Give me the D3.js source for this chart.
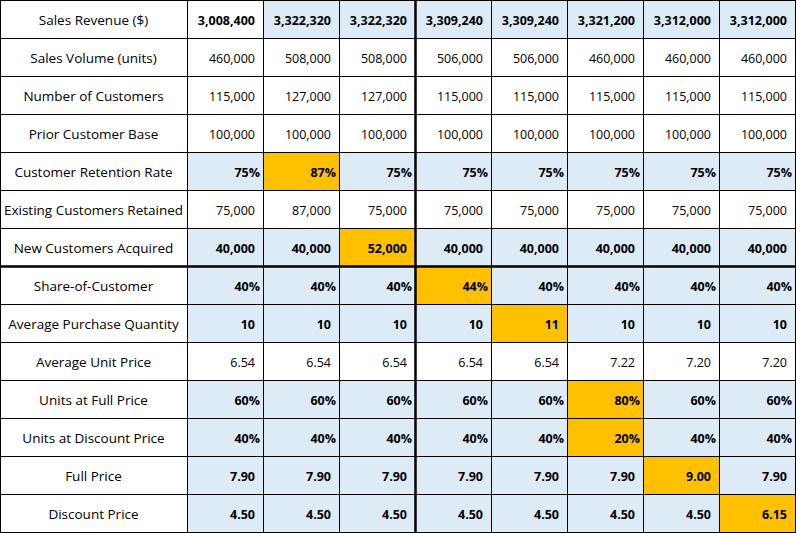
<!DOCTYPE html>
<html>
<head>
<meta charset="utf-8">
<script src="https://cdn.jsdelivr.net/npm/d3@7"></script>
<style>
  html, body { margin: 0; padding: 0; background: #fff; }
  svg { display: block; }
</style>
</head>
<body>
<svg id="chart"></svg>
<script>
// row labels
const rowLabels = [
  'Sales Revenue ($)', 'Sales Volume (units)', 'Number of Customers', 'Prior Customer Base',
  'Customer Retention Rate', 'Existing Customers Retained', 'New Customers Acquired',
  'Share-of-Customer', 'Average Purchase Quantity', 'Average Unit Price',
  'Units at Full Price', 'Units at Discount Price', 'Full Price', 'Discount Price'
];

// values per row, one per scenario column
const salesRevenue = [3008400, 3322320, 3322320, 3309240, 3309240, 3321200, 3312000, 3312000];
const salesVolume = [460000, 508000, 508000, 506000, 506000, 460000, 460000, 460000];
const numCustomers = [115000, 127000, 127000, 115000, 115000, 115000, 115000, 115000];
const priorBase = [100000, 100000, 100000, 100000, 100000, 100000, 100000, 100000];
const retentionRate = [0.75, 0.87, 0.75, 0.75, 0.75, 0.75, 0.75, 0.75];
const existingRetained = [75000, 87000, 75000, 75000, 75000, 75000, 75000, 75000];
const newAcquired = [40000, 40000, 52000, 40000, 40000, 40000, 40000, 40000];
const shareOfCustomer = [0.40, 0.40, 0.40, 0.44, 0.40, 0.40, 0.40, 0.40];
const avgPurchaseQty = [10, 10, 10, 10, 11, 10, 10, 10];
const avgUnitPrice = [6.54, 6.54, 6.54, 6.54, 6.54, 7.22, 7.20, 7.20];
const unitsFullPrice = [0.60, 0.60, 0.60, 0.60, 0.60, 0.80, 0.60, 0.60];
const unitsDiscount = [0.40, 0.40, 0.40, 0.40, 0.40, 0.20, 0.40, 0.40];
const fullPrice = [7.90, 7.90, 7.90, 7.90, 7.90, 7.90, 9.00, 7.90];
const discountPrice = [4.50, 4.50, 4.50, 4.50, 4.50, 4.50, 4.50, 6.15];

const rowValues = [salesRevenue, salesVolume, numCustomers, priorBase, retentionRate,
  existingRetained, newAcquired, shareOfCustomer, avgPurchaseQty, avgUnitPrice,
  unitsFullPrice, unitsDiscount, fullPrice, discountPrice];

// 'int', 'pct', 'dec'
const rowFormats = ['int', 'int', 'int', 'int', 'pct', 'int', 'int', 'pct', 'int', 'dec', 'pct', 'pct', 'dec', 'dec'];

// input rows (blue, bold)
const inputRows = [false, false, false, false, true, false, true, true, true, false, true, true, true, true];

// changed cell per row (column index), -1 for none
const highlightCol = [-1, -1, -1, -1, 1, -1, 2, 3, 4, -1, 5, 5, 6, 7];

const width = 796;
const height = 533;
const labelWidth = 187;
const colIds = d3.range(8);

const svg = d3.select('#chart')
    .attr('width', width)
    .attr('height', height);

const x = d3.scaleBand()
    .domain(colIds)
    .range([labelWidth, 795]);

const y = d3.scaleBand()
    .domain(d3.range(rowLabels.length))
    .range([0, 532]);

const fmt = {
  int: d3.format(','),
  pct: d3.format('.0%'),
  dec: d3.format('.2f'),
};

const font = '"Open Sans", "Noto Sans", sans-serif';
const blue = '#ddebf7';
const orange = '#ffc000';

const cells = [];
rowLabels.forEach(function(label, r) {
  rowValues[r].forEach(function(v, c) {
    let fill = '#ffffff';
    let bold = inputRows[r];
    if (r === 0) {
      // revenue row: first scenario white, rest blue, all bold
      fill = c === 0 ? '#ffffff' : blue;
      bold = true;
    } else if (inputRows[r]) {
      fill = blue;
    }
    if (highlightCol[r] === c) fill = orange;
    cells.push({row: r, col: c, value: v, fill: fill, bold: bold, format: rowFormats[r]});
  });
});

// cell backgrounds
svg.append('g')
    .selectAll('rect')
    .data(cells)
    .join('rect')
    .attr('x', (d) => x(d.col))
    .attr('y', (d) => y(d.row))
    .attr('width', x.bandwidth())
    .attr('height', y.bandwidth())
    .attr('fill', (d) => d.fill);

// grid lines
const grid = svg.append('g').attr('stroke', '#000');

grid.selectAll('.hline')
    .data(d3.range(rowLabels.length + 1))
    .join('line')
    .attr('class', 'hline')
    .attr('x1', 0)
    .attr('x2', 795.5)
    .attr('y1', (d) => (d === rowLabels.length ? 532 : y(d)) + 0.5)
    .attr('y2', (d) => (d === rowLabels.length ? 532 : y(d)) + 0.5)
    .attr('stroke-width', (d) => (d === 7 ? 2.5 : 1));

const vlines = [0, labelWidth].concat(colIds.slice(1).map((c) => x(c)), [795]);
grid.selectAll('.vline')
    .data(vlines)
    .join('line')
    .attr('class', 'vline')
    .attr('x1', (d) => Math.round(d) + 0.5)
    .attr('x2', (d) => Math.round(d) + 0.5)
    .attr('y1', 0)
    .attr('y2', 533)
    .attr('stroke-width', (d) => (d === x(3) ? 2.5 : 1));

// row labels
svg.append('g')
    .selectAll('text')
    .data(rowLabels)
    .join('text')
    .attr('x', labelWidth / 2)
    .attr('y', (d, i) => y(i) + y.bandwidth() / 2 + 2.5)
    .attr('text-anchor', 'middle')
    .attr('dominant-baseline', 'middle')
    .attr('font-family', font)
    .attr('font-size', 13.5)
    .attr('fill', '#000')
    .text((d) => d);

// values
svg.append('g')
    .selectAll('text')
    .data(cells)
    .join('text')
    .attr('x', (d) => x(d.col) + x.bandwidth() - (d.format === 'pct' ? 3 : 8))
    .attr('y', (d) => y(d.row) + y.bandwidth() / 2 + 2.5)
    .attr('text-anchor', 'end')
    .attr('dominant-baseline', 'middle')
    .attr('font-family', font)
    .attr('font-size', 12.5)
    .attr('font-weight', (d) => (d.bold ? 700 : 400))
    .attr('fill', '#000')
    .text((d) => fmt[d.format](d.value));
</script>
</body>
</html>
